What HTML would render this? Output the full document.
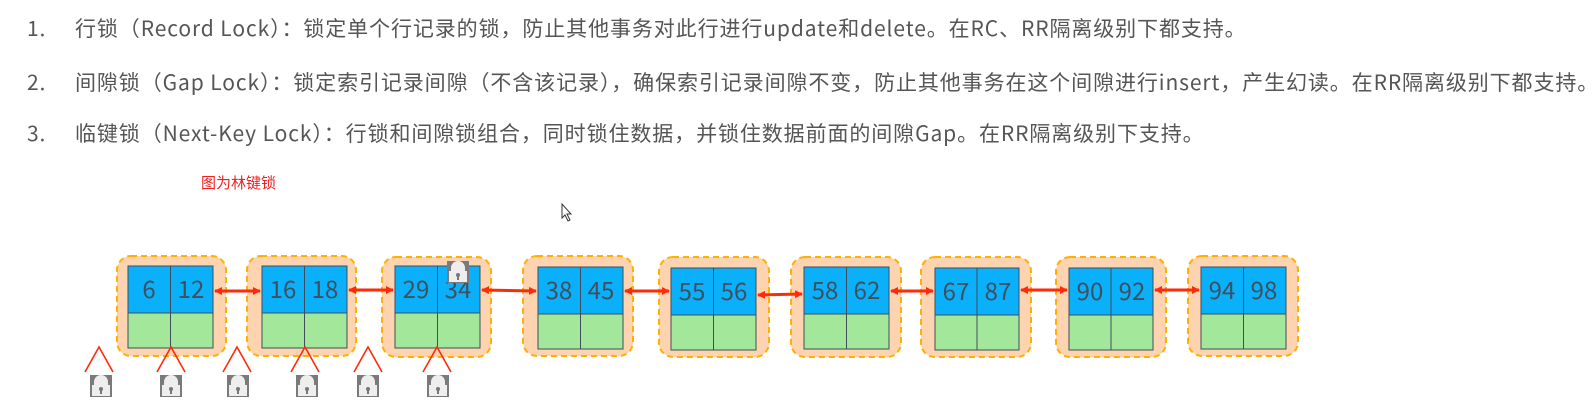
<!DOCTYPE html>
<html><head><meta charset="utf-8"><style>
html,body{margin:0;padding:0;background:#fff;width:1595px;height:413px;overflow:hidden;position:relative}
svg text{font-family:"Noto Sans CJK SC","Liberation Sans",sans-serif}
.t{position:absolute;left:0;font-family:"Noto Sans CJK SC","Liberation Sans",sans-serif;font-size:21px;color:#555;white-space:nowrap;line-height:24px;letter-spacing:0.9px}
.t .n{position:absolute;left:27px}
.t .b{position:absolute;left:75px}
</style></head><body>
<div class="t" style="top:16px"><span class="n">1.</span><span class="b">行锁（Record Lock）：锁定单个行记录的锁，防止其他事务对此行进行update和delete。在RC、RR隔离级别下都支持。</span></div>
<div class="t" style="top:70px"><span class="n">2.</span><span class="b">间隙锁（Gap Lock）：锁定索引记录间隙（不含该记录），确保索引记录间隙不变，防止其他事务在这个间隙进行insert，产生幻读。在RR隔离级别下都支持。</span></div>
<div class="t" style="top:121px"><span class="n">3.</span><span class="b">临键锁（Next-Key Lock）：行锁和间隙锁组合，同时锁住数据，并锁住数据前面的间隙Gap。在RR隔离级别下支持。</span></div>
<svg style="position:absolute;left:0;top:0" width="1595" height="413" viewBox="0 0 1595 413" xmlns="http://www.w3.org/2000/svg">
<defs>
<marker id="ah" markerWidth="8" markerHeight="8" refX="7" refY="4" orient="auto-start-reverse" markerUnits="userSpaceOnUse">
<path d="M0,0 L8,4 L0,8 z" fill="#ff2a0a"/></marker>
<g id="lock"><rect x="-11" y="-11" width="22" height="22" fill="#7a7a7a"/><path d="M-7,-1 v-3 a7,7 0 0 1 14,0 v3 z" fill="#eee"/><rect x="-9" y="-1" width="18" height="11" fill="#eee"/><circle cx="0" cy="3" r="2" fill="#777"/><rect x="-1" y="3" width="2" height="5" fill="#777"/></g>
</defs>
<text x="201" y="188" font-size="15" fill="#f02020">图为林键锁</text>
<path d="M562,204 v14 l3,-3 l3,6 l2,-1 l-3,-6 h4 z" fill="#fff" stroke="#333" stroke-width="1"/>
<g stroke="#ffb000" stroke-width="2" stroke-dasharray="6,4" fill="#fdd3b0">
<rect x="117" y="256" width="109" height="100" rx="14"/>
<rect x="247" y="256" width="109" height="100" rx="14"/>
<rect x="382" y="257" width="109" height="100" rx="14"/>
<rect x="523" y="256" width="110" height="100" rx="14"/>
<rect x="659" y="257" width="110" height="100" rx="14"/>
<rect x="791" y="257" width="110" height="100" rx="14"/>
<rect x="921" y="257" width="110" height="100" rx="14"/>
<rect x="1056" y="257" width="110" height="100" rx="14"/>
<rect x="1188" y="256" width="110" height="100" rx="14"/>
</g>
<g font-size="24" fill="#3f4f60" text-anchor="middle" stroke="#3d4f5c" stroke-width="1">
<g transform="translate(128,266)"><rect width="85" height="47" fill="#0ab0fa"/><rect y="47" width="85" height="35" fill="#a3e89a"/><line x1="42.5" y1="0" x2="42.5" y2="82"/><text x="21" y="32" stroke="none">6</text><text x="63" y="32" stroke="none">12</text></g>
<g transform="translate(262,266)"><rect width="85" height="47" fill="#0ab0fa"/><rect y="47" width="85" height="35" fill="#a3e89a"/><line x1="42.5" y1="0" x2="42.5" y2="82"/><text x="21" y="32" stroke="none">16</text><text x="63" y="32" stroke="none">18</text></g>
<g transform="translate(395,266)"><rect width="85" height="47" fill="#0ab0fa"/><rect y="47" width="85" height="35" fill="#a3e89a"/><line x1="42.5" y1="0" x2="42.5" y2="82"/><text x="21" y="32" stroke="none">29</text><text x="63" y="32" stroke="none">34</text></g>
<g transform="translate(538,267)"><rect width="85" height="47" fill="#0ab0fa"/><rect y="47" width="85" height="35" fill="#a3e89a"/><line x1="42.5" y1="0" x2="42.5" y2="82"/><text x="21" y="32" stroke="none">38</text><text x="63" y="32" stroke="none">45</text></g>
<g transform="translate(671,268)"><rect width="85" height="47" fill="#0ab0fa"/><rect y="47" width="85" height="35" fill="#a3e89a"/><line x1="42.5" y1="0" x2="42.5" y2="82"/><text x="21" y="32" stroke="none">55</text><text x="63" y="32" stroke="none">56</text></g>
<g transform="translate(804,267)"><rect width="85" height="47" fill="#0ab0fa"/><rect y="47" width="85" height="35" fill="#a3e89a"/><line x1="42.5" y1="0" x2="42.5" y2="82"/><text x="21" y="32" stroke="none">58</text><text x="63" y="32" stroke="none">62</text></g>
<g transform="translate(935,268)"><rect width="84" height="47" fill="#0ab0fa"/><rect y="47" width="84" height="35" fill="#a3e89a"/><line x1="42" y1="0" x2="42" y2="82"/><text x="21" y="32" stroke="none">67</text><text x="63" y="32" stroke="none">87</text></g>
<g transform="translate(1069,268)"><rect width="84" height="47" fill="#0ab0fa"/><rect y="47" width="84" height="35" fill="#a3e89a"/><line x1="42" y1="0" x2="42" y2="82"/><text x="21" y="32" stroke="none">90</text><text x="63" y="32" stroke="none">92</text></g>
<g transform="translate(1201,267)"><rect width="85" height="47" fill="#0ab0fa"/><rect y="47" width="85" height="35" fill="#a3e89a"/><line x1="42.5" y1="0" x2="42.5" y2="82"/><text x="21" y="32" stroke="none">94</text><text x="63" y="32" stroke="none">98</text></g>
</g>
<g stroke="#ff2a0a" stroke-width="3">
<line x1="215" y1="291" x2="260" y2="291" marker-start="url(#ah)" marker-end="url(#ah)"/>
<line x1="349" y1="290" x2="393" y2="290" marker-start="url(#ah)" marker-end="url(#ah)"/>
<line x1="482" y1="290" x2="536" y2="291" marker-start="url(#ah)" marker-end="url(#ah)"/>
<line x1="625" y1="291" x2="669" y2="291" marker-start="url(#ah)" marker-end="url(#ah)"/>
<line x1="758" y1="295" x2="802" y2="294" marker-start="url(#ah)" marker-end="url(#ah)"/>
<line x1="891" y1="291" x2="933" y2="291" marker-start="url(#ah)" marker-end="url(#ah)"/>
<line x1="1021" y1="290" x2="1067" y2="290" marker-start="url(#ah)" marker-end="url(#ah)"/>
<line x1="1155" y1="290" x2="1199" y2="290" marker-start="url(#ah)" marker-end="url(#ah)"/>
</g>
<g stroke="#ff2a0a" stroke-width="1.6" fill="none">
<path d="M85,372 L99,347 L113,372"/>
<path d="M157,372 L171,347 L185,372"/>
<path d="M223,372 L237,347 L251,372"/>
<path d="M291,372 L305,347 L319,372"/>
<path d="M354,372 L368,347 L382,372"/>
<path d="M423,372 L437,347 L451,372"/>
</g>
<use href="#lock" x="101" y="386"/>
<use href="#lock" x="171" y="386"/>
<use href="#lock" x="238" y="386"/>
<use href="#lock" x="307" y="386"/>
<use href="#lock" x="368" y="386"/>
<use href="#lock" x="438" y="386"/>
<use href="#lock" x="458" y="272"/>
</svg>
</body></html>
